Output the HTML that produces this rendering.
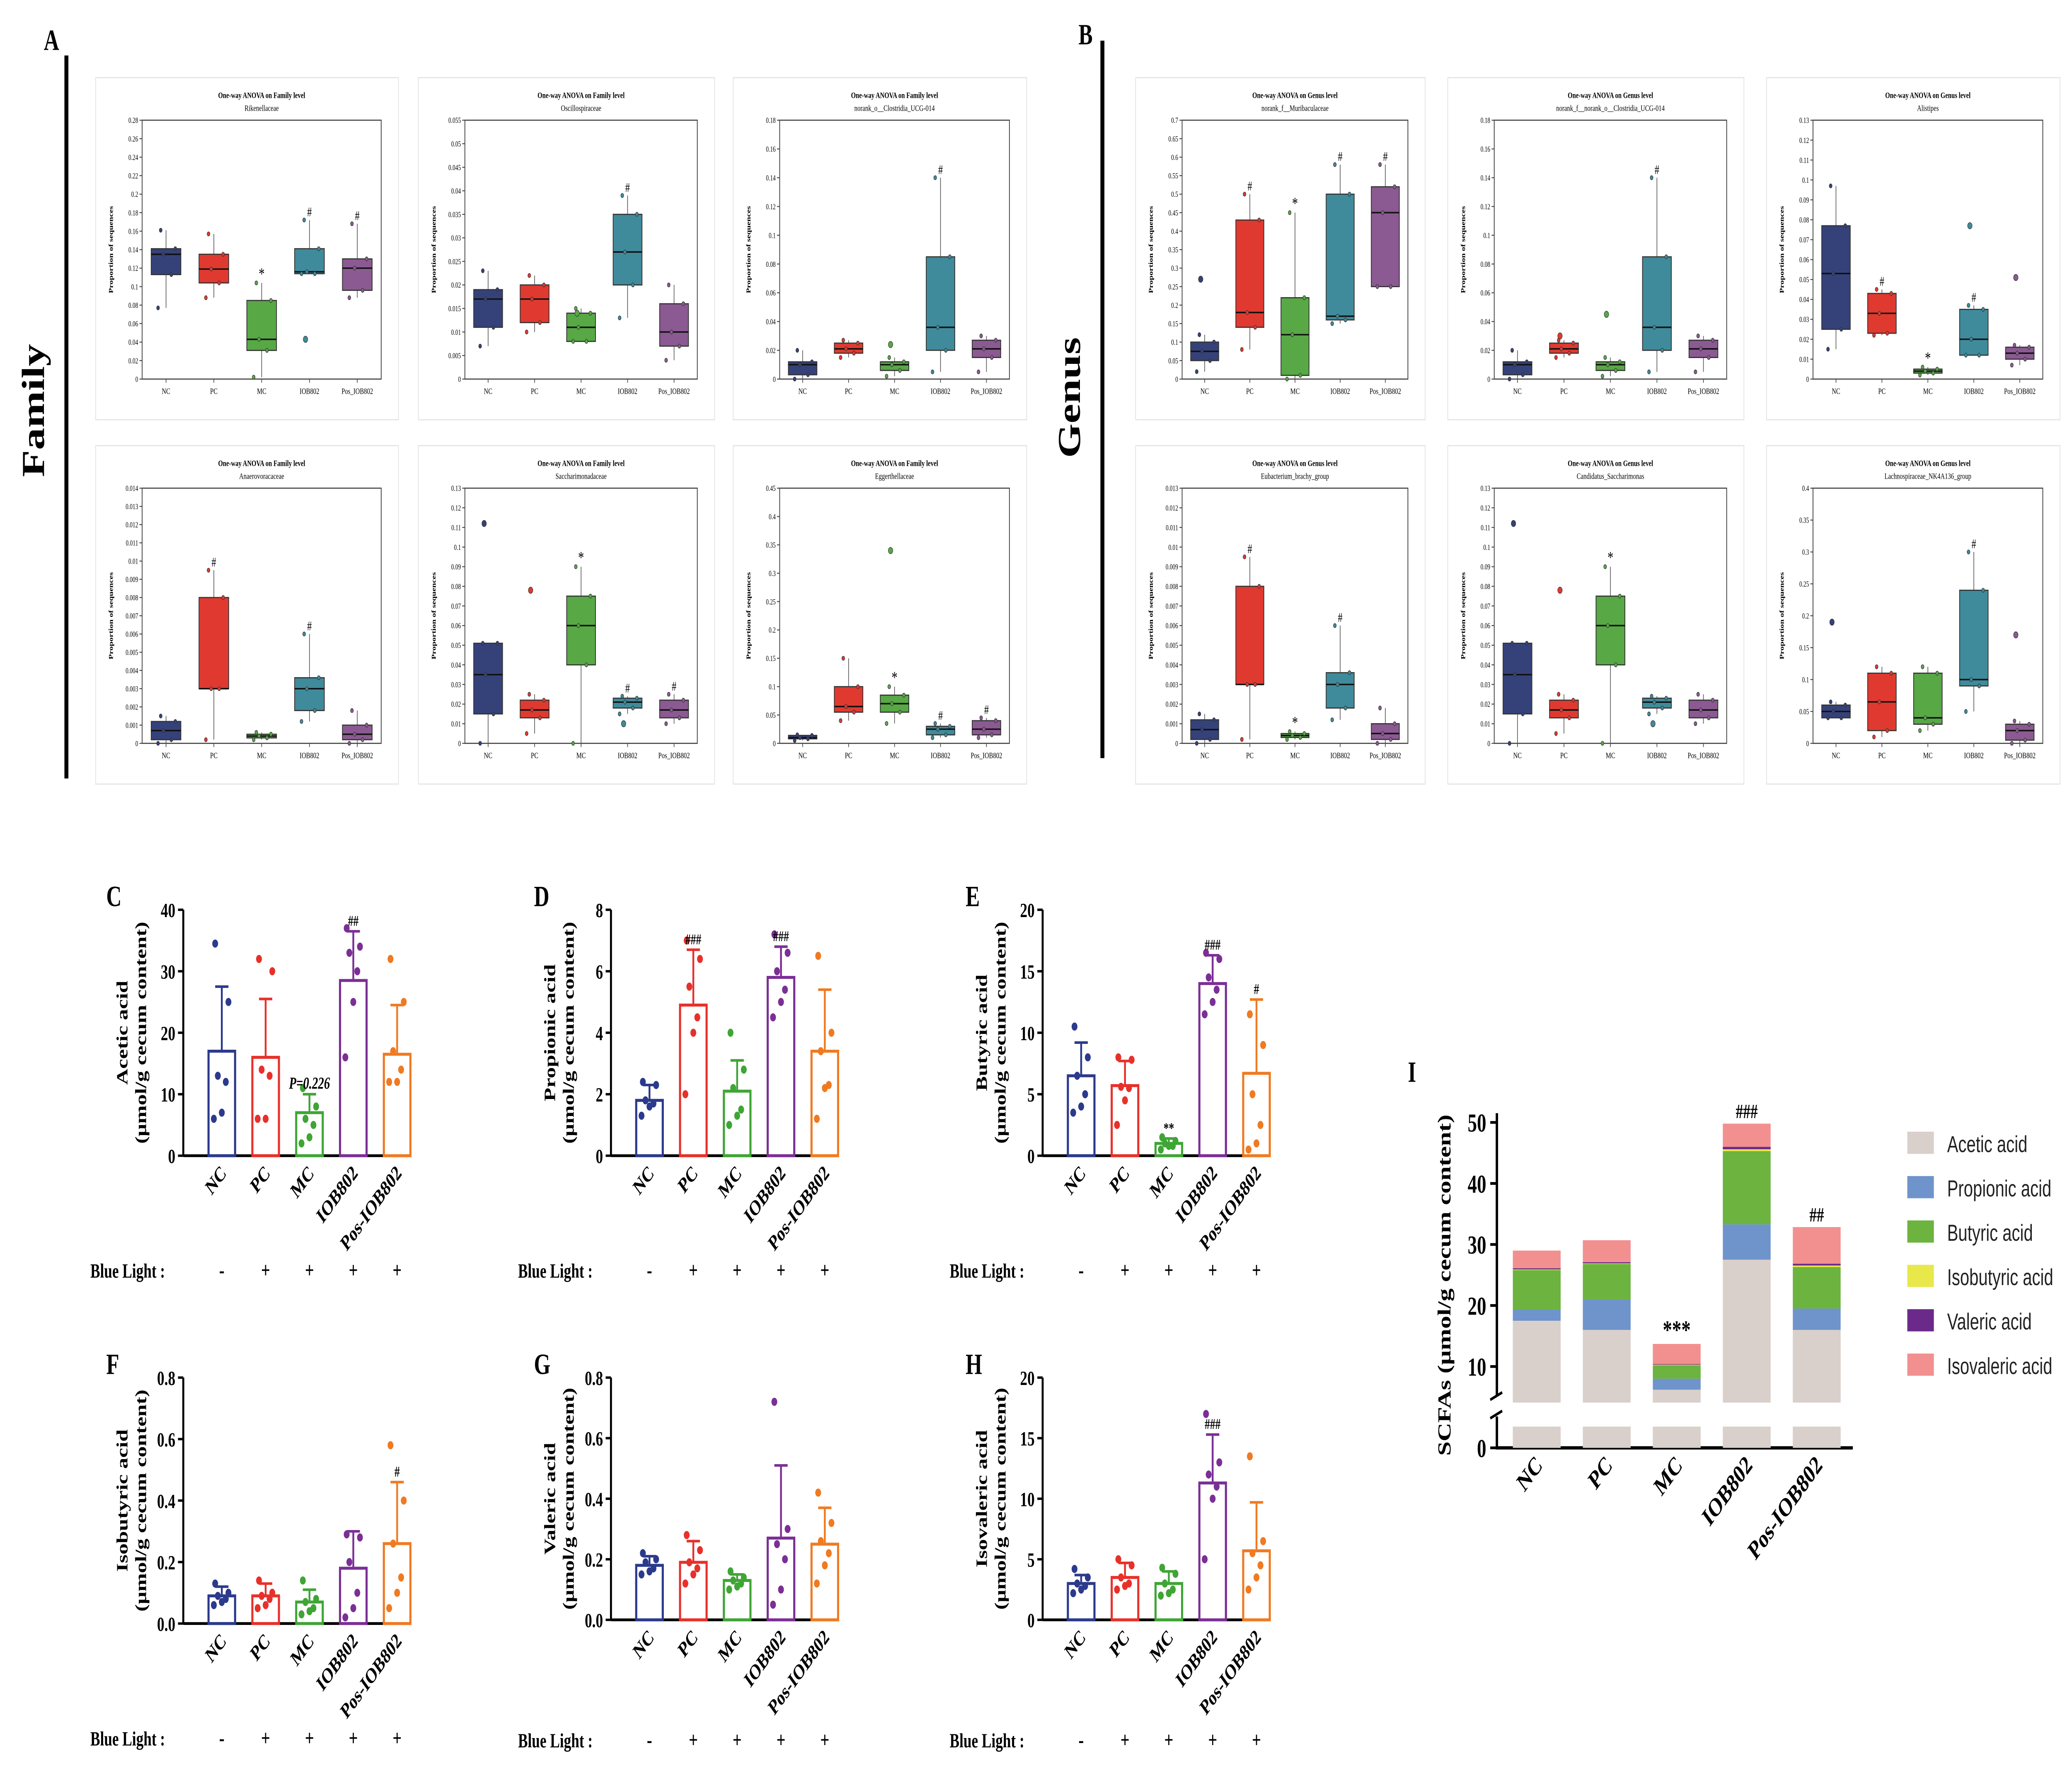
<!DOCTYPE html>
<html><head><meta charset="utf-8"><style>
html,body{margin:0;padding:0;background:#fff;overflow:hidden;width:100%;height:100%;}
svg{display:block;font-family:"Liberation Serif",serif;width:100vw;height:100vh;}
</style></head><body>
<svg id="fig" xmlns="http://www.w3.org/2000/svg" viewBox="0 0 1560 954.5" preserveAspectRatio="none"></svg>
<script>
// ---------- Box plot data (proportion of sequences) [wlo,q1,med,q3,whi] ----------
const groups = ["NC","PC","MC","IOB802","Pos_IOB802"];
const famRikStats = [[0.077,0.113,0.135,0.141,0.161],[0.088,0.104,0.119,0.135,0.157],[0.002,0.031,0.043,0.085,0.104],[0.114,0.114,0.116,0.141,0.172],[0.088,0.096,0.12,0.13,0.168]];
const famRikOut = [[],[],[],[0.043],[]];
const famRikMarks = ["","","*","#","#"];
const famOscStats = [[0.007,0.011,0.017,0.019,0.023],[0.01,0.012,0.017,0.02,0.022],[0.008,0.008,0.011,0.014,0.015],[0.013,0.02,0.027,0.035,0.039],[0.004,0.007,0.01,0.016,0.02]];
const famOscOut = [[],[],[0.014],[],[]];
const famOscMarks = ["","","","#",""];
const famCloStats = [[0.0,0.003,0.01,0.012,0.02],[0.015,0.018,0.021,0.025,0.027],[0.002,0.006,0.01,0.012,0.015],[0.005,0.02,0.036,0.085,0.14],[0.005,0.015,0.021,0.027,0.03]];
const famCloOut = [[],[],[0.024],[],[]];
const famCloMarks = ["","","","#",""];
const famAnaStats = [[0.0,0.0002,0.0007,0.0012,0.0015],[0.0002,0.003,0.003,0.008,0.0095],[0.0002,0.0003,0.0004,0.0005,0.0006],[0.0012,0.0018,0.003,0.0036,0.006],[0.0,0.0002,0.0005,0.001,0.0018]];
const famAnaOut = [[],[],[],[],[]];
const famAnaMarks = ["","#","","#",""];
const famSacStats = [[0.0,0.015,0.035,0.051,0.051],[0.005,0.013,0.017,0.022,0.025],[0.0,0.04,0.06,0.075,0.09],[0.015,0.018,0.021,0.023,0.024],[0.01,0.013,0.017,0.022,0.025]];
const famSacOut = [[0.112],[0.078],[],[0.01],[]];
const famSacMarks = ["","","*","#","#"];
const famEggStats = [[0.005,0.008,0.01,0.014,0.015],[0.04,0.055,0.065,0.1,0.15],[0.035,0.055,0.07,0.085,0.1],[0.01,0.015,0.025,0.03,0.035],[0.01,0.015,0.025,0.04,0.045]];
const famEggOut = [[],[],[0.34],[],[]];
const famEggMarks = ["","","*","#","#"];
const genMurStats = [[0.02,0.05,0.075,0.1,0.12],[0.08,0.14,0.18,0.43,0.5],[0.0,0.01,0.12,0.22,0.45],[0.15,0.16,0.17,0.5,0.58],[0.25,0.25,0.45,0.52,0.58]];
const genMurOut = [[0.27],[],[],[],[]];
const genMurMarks = ["","#","*","#","#"];
const genCloStats = famCloStats;
const genCloOut = [[],[0.03],[0.045],[],[]];
const genCloMarks = ["","","","#",""];
const genAliStats = [[0.015,0.025,0.053,0.077,0.097],[0.022,0.023,0.033,0.043,0.045],[0.002,0.003,0.004,0.005,0.006],[0.012,0.012,0.02,0.035,0.037],[0.007,0.01,0.013,0.016,0.017]];
const genAliOut = [[],[],[],[0.077],[0.051]];
const genAliMarks = ["","#","*","#",""];
const genEubStats = famAnaStats;
const genEubOut = [[],[],[],[],[]];
const genEubMarks = ["","#","*","#",""];
const genCanStats = famSacStats;
const genCanOut = famSacOut;
const genCanMarks = ["","","*","",""];
const genLacStats = [[0.04,0.04,0.05,0.06,0.065],[0.01,0.02,0.065,0.11,0.12],[0.02,0.03,0.04,0.11,0.12],[0.05,0.09,0.1,0.24,0.3],[0.0,0.005,0.02,0.03,0.035]];
const genLacOut = [[0.19],[],[],[],[0.17]];
const genLacMarks = ["","","","#",""];

// ---------- Bar chart data (SCFAs) ----------
const barGroups = ["NC","PC","MC","IOB802","Pos-IOB802"];
const aceticMean = [17,16,7,28.5,16.5];
const aceticSD = [10.5,9.5,3,8,8];
const aceticPts = [[34.5,25,13,12,7,6],[32,30,14,13,6,6],[11,8,6,5,3,2],[37,34,33,30,25,16],[32,25,17,14,12,12]];
const aceticMarks = ["","","P=0.226","##",""];
const propMean = [1.8,4.9,2.1,5.8,3.4];
const propSD = [0.5,1.8,1,1,2];
const propPts = [[2.4,2.3,1.8,1.7,1.6,1.3],[7,6.4,5.5,4.5,4,2],[4,2.8,2.2,1.5,1.3,1],[7.2,6.6,6,5.4,5,4.5],[6.5,4,3.4,2.3,2.2,1.2]];
const propMarks = ["","###","","###",""];
const butMean = [6.5,5.7,1,14,6.7];
const butSD = [2.7,2,0.4,2.3,6];
const butPts = [[10.5,8,6.5,5,4,3.5],[8,7.8,5.6,5.5,4.5,2.5],[1.5,1.2,1,0.8,0.8,0.5],[16.5,16,14.5,13.5,12.5,11.5],[11.5,9,5,2.5,1,0.5]];
const butMarks = ["","","**","###","#"];
const isobMean = [0.09,0.09,0.07,0.18,0.26];
const isobSD = [0.03,0.04,0.04,0.12,0.2];
const isobPts = [[0.13,0.1,0.09,0.08,0.07,0.06],[0.14,0.1,0.09,0.08,0.06,0.05],[0.14,0.08,0.07,0.05,0.04,0.03],[0.29,0.28,0.2,0.1,0.05,0.02],[0.58,0.4,0.26,0.15,0.1,0.05]];
const isobMarks = ["","","","","#"];
const valMean = [0.18,0.19,0.13,0.27,0.25];
const valSD = [0.03,0.07,0.02,0.24,0.12];
const valPts = [[0.22,0.2,0.19,0.17,0.16,0.15],[0.28,0.23,0.19,0.17,0.15,0.12],[0.16,0.14,0.13,0.12,0.11,0.1],[0.72,0.3,0.25,0.2,0.1,0.05],[0.42,0.32,0.26,0.22,0.18,0.12]];
const valMarks = ["","","","",""];
const isovMean = [3,3.5,3,11.3,5.7];
const isovSD = [0.7,1.2,1,4,4];
const isovPts = [[4.2,3.5,3,2.8,2.5,2.2],[5,4.5,3.5,3,2.8,2.5],[4.3,3.8,3,2.5,2.2,2],[17,13,12,11,10,5],[13.5,6.5,5.5,4.5,3.5,2.5]];
const isovMarks = ["","","","###",""];

// ---------- Stacked chart data (I) ----------
const scfaNames = ["Acetic acid","Propionic acid","Butyric acid","Isobutyric acid","Valeric acid","Isovaleric acid"];
const stAcetic = [17.5,16,6.2,27.5,16];
const stProp = [1.8,5,1.8,5.8,3.5];
const stBut = [6.5,5.8,2.2,12,6.8];
const stIsob = [0.1,0.1,0.1,0.3,0.25];
const stVal = [0.2,0.2,0.1,0.4,0.3];
const stIsov = [2.9,3.6,3.3,3.8,6];
const stMarks = ["","","***","###","##"];
</script>
<script>
const svg = document.getElementById('fig');
const NS = 'http://www.w3.org/2000/svg';
function el(tag, attrs, parent){
  const e = document.createElementNS(NS, tag);
  for (const k in attrs) e.setAttribute(k, attrs[k]);
  (parent || svg).appendChild(e);
  return e;
}
function txt(s, attrs, parent){ const t = el('text', attrs, parent); t.textContent = s; return t; }

const boxColors = ["#35427a","#e03a30","#58a846","#3f8b9b","#8b5a92"];
const barColors = ["#2b3a8c","#e8302a","#3fa535","#7b2f95","#f07a22"];
const stColors = ["#d9cfcb","#6f94cc","#6db33f","#e8e84a","#6b2a8a","#f29090"];

let t;
t = txt('A',{x:33,y:27,'font-size':16,'font-weight':'bold'});  
t = txt('B',{x:812,y:24,'font-size':16,'font-weight':'bold'});  
t = el('line',{x1:50,y1:30,x2:50,y2:421,stroke:'#000','stroke-width':3});  
t = el('line',{x1:830,y1:22,x2:830,y2:410,stroke:'#000','stroke-width':3});  
t = txt('Family',{x:0,y:0,'font-size':24,'font-weight':'bold','text-anchor':'middle',transform:'translate(33,222) rotate(-90)'});  
t = txt('Genus',{x:0,y:0,'font-size':24,'font-weight':'bold','text-anchor':'middle',transform:'translate(813,215) rotate(-90)'});  

function fmt(v, step){
  const d = Math.max(0, Math.round(-Math.log10(step)+0.49));
  let s = v.toFixed(d); s = s.replace(/\.?0+$/,''); return s===''?'0':s;
}
function boxPlot(name, L, R, T, B, ymax, step, title, sub, stats, outs, marks){
  const g = el('g',{});
  
  
  const y = v => B - v/ymax*(B-T);
  const n = stats.length, bw = (R-L)/n;
  const x = i => L + bw*(i+0.5);
  const frame = el('rect',{x:L-35,y:T-23,width:R-L+48,height:B-T+45,fill:'none',stroke:'#e4e4e4','stroke-width':0.6},g);
   
  let a = txt(title,{x:(L+R)/2,y:T-12,'font-size':4.6,'font-weight':'bold','text-anchor':'middle'},g);
   
  a = txt(sub,{x:(L+R)/2,y:T-5,'font-size':4.6,'text-anchor':'middle'},g);
   
  a = el('rect',{x:L,y:T,width:R-L,height:B-T,fill:'none',stroke:'#444','stroke-width':0.6},g);
   
  a = txt('Proportion of sequences',{x:0,y:0,'font-size':4.6,'font-weight':'bold','text-anchor':'middle',transform:`translate(${L-22},${(T+B)/2}) rotate(-90)`},g);
   
  for (let v=0; v<=ymax+1e-9; v+=step){
    const yy=y(v);
    a = el('line',{x1:L-2,x2:L,y1:yy,y2:yy,stroke:'#444','stroke-width':0.5},g);
     
    a = txt(fmt(v,step),{x:L-3,y:yy+1.5,'font-size':4.2,'text-anchor':'end'},g);
     
  }
  stats.forEach((s,i)=>{
    const cx=x(i), w=bw*0.62;
    a = el('line',{x1:cx,x2:cx,y1:y(s[0]),y2:y(s[4]),stroke:'#555','stroke-width':0.5},g);
     
    a = el('rect',{x:cx-w/2,y:y(s[3]),width:w,height:Math.max(0.6,y(s[1])-y(s[3])),fill:boxColors[i],stroke:'#333','stroke-width':0.6},g);
     
    a = el('line',{x1:cx-w/2,x2:cx+w/2,y1:y(s[2]),y2:y(s[2]),stroke:'#111','stroke-width':0.8},g);
     
    const offs=[-6,4,-2,7,-4];
    s.forEach((v,k)=>{
      a = el('circle',{cx:cx+offs[k],cy:y(v),r:1.1,fill:boxColors[i],stroke:'#333','stroke-width':0.3},g);
       
    });
    outs[i].forEach(v=>{
      a = el('circle',{cx:cx-3,cy:y(v),r:1.7,fill:boxColors[i],stroke:'#333','stroke-width':0.3},g);
       
    });
    if (marks[i]){
      a = txt(marks[i],{x:cx,y:y(s[4])-2,'font-size':marks[i]==='*'?9:7,'text-anchor':'middle'},g);
       
    }
    a = el('line',{x1:cx,x2:cx,y1:B,y2:B+2,stroke:'#444','stroke-width':0.5},g);
     
    a = txt(groups[i],{x:cx,y:B+8,'font-size':4.6,'text-anchor':'middle'},g);
     
  });
}
const famL=[107,350,587], famR=[287,525,760];
const genL=[890,1125,1365], genR=[1060,1300,1538];
boxPlot('box-rikenellaceae',famL[0],famR[0],65,205,0.28,0.02,'One-way ANOVA on Family level','Rikenellaceae',famRikStats,famRikOut,famRikMarks);
boxPlot('box-oscillospiraceae',famL[1],famR[1],65,205,0.055,0.005,'One-way ANOVA on Family level','Oscillospiraceae',famOscStats,famOscOut,famOscMarks);
boxPlot('box-clostridia-family',famL[2],famR[2],65,205,0.18,0.02,'One-way ANOVA on Family level','norank_o__Clostridia_UCG-014',famCloStats,famCloOut,famCloMarks);
boxPlot('box-anaerovoracaceae',famL[0],famR[0],264,402,0.014,0.001,'One-way ANOVA on Family level','Anaerovoracaceae',famAnaStats,famAnaOut,famAnaMarks);
boxPlot('box-saccharimonadaceae',famL[1],famR[1],264,402,0.13,0.01,'One-way ANOVA on Family level','Saccharimonadaceae',famSacStats,famSacOut,famSacMarks);
boxPlot('box-eggerthellaceae',famL[2],famR[2],264,402,0.45,0.05,'One-way ANOVA on Family level','Eggerthellaceae',famEggStats,famEggOut,famEggMarks);
boxPlot('box-muribaculaceae',genL[0],genR[0],65,205,0.7,0.05,'One-way ANOVA on Genus level','norank_f__Muribaculaceae',genMurStats,genMurOut,genMurMarks);
boxPlot('box-clostridia-genus',genL[1],genR[1],65,205,0.18,0.02,'One-way ANOVA on Genus level','norank_f__norank_o__Clostridia_UCG-014',genCloStats,genCloOut,genCloMarks);
boxPlot('box-alistipes',genL[2],genR[2],65,205,0.13,0.01,'One-way ANOVA on Genus level','Alistipes',genAliStats,genAliOut,genAliMarks);
boxPlot('box-eubacterium',genL[0],genR[0],264,402,0.013,0.001,'One-way ANOVA on Genus level','Eubacterium_brachy_group',genEubStats,genEubOut,genEubMarks);
boxPlot('box-saccharimonas',genL[1],genR[1],264,402,0.13,0.01,'One-way ANOVA on Genus level','Candidatus_Saccharimonas',genCanStats,genCanOut,genCanMarks);
boxPlot('box-lachnospiraceae',genL[2],genR[2],264,402,0.4,0.05,'One-way ANOVA on Genus level','Lachnospiraceae_NK4A136_group',genLacStats,genLacOut,genLacMarks);

function barChart(name, letter, ax, T, B, ymax, tstep, tdec, label, means, sds, pts, marks, blueY){
  const g = el('g',{});
  
  
  const y = v => B - v/ymax*(B-T);
  const x = i => ax + 29 + i*33;
  let a = txt(letter,{x:ax-58,y:T-2,'font-size':16,'font-weight':'bold'},g);
   
  a = el('line',{x1:ax,x2:ax,y1:T,y2:B,stroke:'#000','stroke-width':1.5},g);
   
  a = el('line',{x1:ax,x2:ax+170,y1:B,y2:B,stroke:'#000','stroke-width':1.5},g);
   
  for (let v=0; v<=ymax+1e-9; v+=tstep){
    a = el('line',{x1:ax-4,x2:ax,y1:y(v),y2:y(v),stroke:'#000','stroke-width':1.3},g);
     
    a = txt(v.toFixed(tdec),{x:ax-6,y:y(v)+4,'font-size':11,'font-weight':'bold','text-anchor':'end'},g);
     
  }
  a = txt(label,{x:0,y:0,'font-size':12,'font-weight':'bold','text-anchor':'middle',transform:`translate(${ax-42},${(T+B)/2}) rotate(-90)`},g);
   
  a = txt('(μmol/g cecum content)',{x:0,y:0,'font-size':12,'font-weight':'bold','text-anchor':'middle',transform:`translate(${ax-28},${(T+B)/2}) rotate(-90)`},g);
   
  const jit=[-5,5,-3,3,0,-6];
  means.forEach((m,i)=>{
    const cx=x(i), c=barColors[i];
    a = el('rect',{x:cx-10,y:y(m),width:20,height:B-y(m),fill:'#fff',stroke:c,'stroke-width':1.6},g);
     
    a = el('path',{d:`M${cx},${y(m)}V${y(m+sds[i])}M${cx-5},${y(m+sds[i])}H${cx+5}M${cx-8},${y(m)}H${cx+8}`,stroke:c,'stroke-width':1.4,fill:'none'},g);
     
    pts[i].forEach((v,k)=>{
      a = el('circle',{cx:cx+jit[k],cy:y(v),r:2.2,fill:c},g);
       
    });
    if (marks[i]){
      const isP = marks[i].startsWith('P');
      a = txt(marks[i],{x:cx,y:y(m+sds[i])-3,'font-size':isP?9:8,'font-weight':'bold','font-style':isP?'italic':'normal','text-anchor':'middle'},g);
       
    }
    a = txt(barGroups[i],{x:0,y:0,'font-size':11.5,'font-weight':'bold','text-anchor':'end',transform:`translate(${cx+4},${B+10}) rotate(-45)`},g);
     
    a = txt(i===0?'-':'+',{x:cx,y:blueY,'font-size':12,'font-weight':'bold','text-anchor':'middle'},g);
     
  });
  a = txt('Blue Light :',{x:ax-70,y:blueY,'font-size':11,'font-weight':'bold'},g);
   
}
barChart('chart-acetic','C',138,492,625,40,10,0,'Acetic acid',aceticMean,aceticSD,aceticPts,aceticMarks,691);
barChart('chart-propionic','D',460,492,625,8,2,0,'Propionic acid',propMean,propSD,propPts,propMarks,691);
barChart('chart-butyric','E',785,492,625,20,5,0,'Butyric acid',butMean,butSD,butPts,butMarks,691);
barChart('chart-isobutyric','F',138,745,878,0.8,0.2,1,'Isobutyric acid',isobMean,isobSD,isobPts,isobMarks,944);
barChart('chart-valeric','G',460,745,876,0.8,0.2,1,'Valeric acid',valMean,valSD,valPts,valMarks,945);
barChart('chart-isovaleric','H',785,745,876,20,5,0,'Isovaleric acid',isovMean,isovSD,isovPts,isovMarks,945);

(function(){
  const g = el('g',{});
  
  
  const ax=1127, y = v => 772 - v*3.3, base0=783;
  let a = txt('I',{x:1060,y:585,'font-size':16,'font-weight':'bold'},g);
   
  a = el('path',{d:`M${ax},602V755M${ax},766V${base0}H1395`,stroke:'#000','stroke-width':1.8,fill:'none'},g);
   
  a = el('path',{d:`M${ax-5},757L${ax+4},753M${ax-5},767L${ax+4},763`,stroke:'#000','stroke-width':1.5},g);
   
  [10,20,30,40,50].forEach(v=>{
    a = el('line',{x1:ax-5,x2:ax,y1:y(v),y2:y(v),stroke:'#000','stroke-width':1.5},g);
     
    a = txt(String(v),{x:ax-8,y:y(v)+5,'font-size':14,'font-weight':'bold','text-anchor':'end'},g);
     
  });
  a = el('line',{x1:ax-5,x2:ax,y1:base0,y2:base0,stroke:'#000','stroke-width':1.5},g);
   
  a = txt('0',{x:ax-8,y:base0+5,'font-size':14,'font-weight':'bold','text-anchor':'end'},g);
   
  a = txt('SCFAs (μmol/g cecum content)',{x:0,y:0,'font-size':14,'font-weight':'bold','text-anchor':'middle',transform:`translate(1092,695) rotate(-90)`},g);
   
  const series=[stAcetic,stProp,stBut,stIsob,stVal,stIsov];
  barGroups.forEach((gname,i)=>{
    const cx = 1157 + i*52.7;
    let acc=0;
    series.forEach((s,k)=>{
      const lo = acc, hi = acc + s[i]; acc = hi;
      const y0 = Math.min(y(lo), 758.5);
      a = el('rect',{x:cx-18,y:y(hi),width:36,height:Math.max(0,y0-y(hi)),fill:stColors[k]},g);
       
    });
    a = el('rect',{x:cx-18,y:771.5,width:36,height:base0-771.5,fill:stColors[0]},g);
     
    if (stMarks[i]){
      a = txt(stMarks[i],{x:cx,y:y(acc)-3,'font-size':i===2?14:11,'font-weight':'bold','text-anchor':'middle'},g);
       
    }
    a = txt(gname,{x:0,y:0,'font-size':14,'font-weight':'bold','text-anchor':'end',transform:`translate(${cx+5},${base0+10}) rotate(-45)`},g);
     
  });
  scfaNames.forEach((nm,k)=>{
    const yy = 618 + k*24;
    a = el('rect',{x:1436,y:yy-6,width:20,height:12,fill:stColors[k]},g);
     
    a = txt(nm,{x:1466,y:yy+5,'font-size':12.5,fill:'#222','font-family':'"Liberation Sans",sans-serif'},g);
     
  });
})();
</script>
</body></html>
